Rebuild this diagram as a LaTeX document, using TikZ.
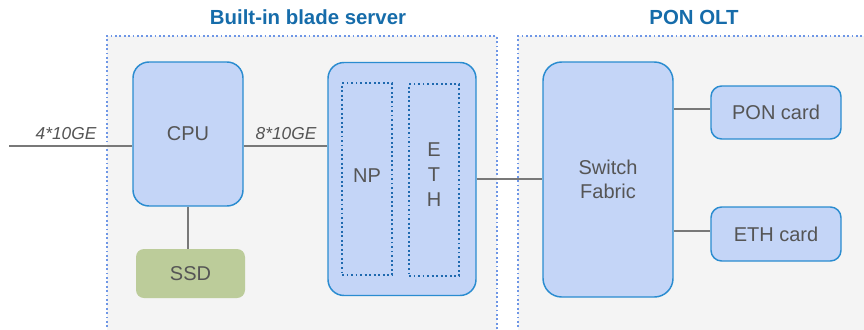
\documentclass[tikz,border=0pt]{standalone}
\usepackage{fontspec}
\setmainfont{Liberation Sans}
\definecolor{boxfill}{RGB}{196,213,247}
\definecolor{boxline}{RGB}{42,140,208}
\definecolor{zoneline}{RGB}{110,150,230}
\definecolor{zonefill}{RGB}{244,244,244}
\definecolor{titleblue}{RGB}{22,108,170}
\definecolor{txtgray}{RGB}{85,85,85}
\definecolor{wire}{RGB}{120,120,120}
\definecolor{ssdfill}{RGB}{188,204,154}
\definecolor{innerline}{RGB}{30,105,175}
\begin{document}
\begin{tikzpicture}[x=0.75pt,y=-0.75pt,
  zone/.style={draw=zoneline,fill=zonefill,line width=1.3pt,dotted},
  zonetitle/.style={text=titleblue,font=\fontsize{15.3}{18}\selectfont\bfseries},
  block/.style={draw=boxline,fill=boxfill,line width=1.1pt,text=txtgray,
    font=\fontsize{15}{17.5}\selectfont,align=center,inner sep=0pt},
  part/.style={draw=innerline,line width=1.4pt,dotted,inner sep=0pt},
  wireline/.style={draw=wire,line width=1.5pt},
  speed/.style={text=txtgray,font=\fontsize{13}{15}\selectfont\itshape,inner sep=0pt}]
\useasboundingbox (0,0) rectangle (864,329);
% enclosing zones
\fill[zonefill] (107,36) rectangle (497,335);
\draw[zone] (107,336) -- (107,36) -- (497,36) -- (497,336);
\fill[zonefill] (518,36) rectangle (870,335);
\draw[zone] (518,336) -- (518,36) -- (870,36);
\node[zonetitle] (t1) at (308,17) {Built-in blade server};
\node[zonetitle] (t2) at (694,17) {PON OLT};
% blade server
\node[block,rounded corners=12pt,minimum width=82.5pt,minimum height=108pt] (cpu) at (188,134) {CPU};
\node[fill=ssdfill,rounded corners=6pt,text=txtgray,font=\fontsize{15}{17.5}\selectfont,
  minimum width=81.75pt,minimum height=36.75pt,inner sep=0pt] (ssd) at (190.5,273.5) {SSD};
\node[block,rounded corners=12pt,minimum width=111pt,minimum height=174.75pt] (npeth) at (402,179) {};
\node[part,minimum width=37.5pt,minimum height=144pt] (np) at (367,179) {};
\node[part,minimum width=37.5pt,minimum height=144pt] (eth) at (434,180) {};
\node[text=txtgray,font=\fontsize{15}{17.5}\selectfont] (nplabel) at (367,176) {NP};
\node[text=txtgray,font=\fontsize{15}{18.75}\selectfont,align=center] (ethlabel) at (434,175) {E\\T\\H};
% PON OLT
\node[block,rounded corners=14pt,minimum width=97.5pt,minimum height=176.25pt] (sw) at (608,179.5) {Switch\\Fabric};
\node[block,rounded corners=8pt,minimum width=97.5pt,minimum height=39.75pt] (pon) at (776,112.5) {PON card};
\node[block,rounded corners=8pt,minimum width=97.5pt,minimum height=40.5pt] (ethc) at (776,234) {ETH card};
% links
\coordinate (uplink) at (9,146);
\coordinate (cpuy) at (0,146);
\draw[wireline] (uplink) -- (uplink -| cpu.west);
\node[speed] (s1) at (66,134) {4*10GE};
\draw[wireline] (cpu.east |- cpuy) -- (npeth.west |- cpuy);
\node[speed] (s2) at (286,134) {8*10GE};
\draw[wireline] (cpu.south) -- (ssd.north -| cpu.south);
\draw[wireline] (npeth.east) -- (npeth.east -| sw.west);
\coordinate (pony) at (0,109);
\coordinate (ethy) at (0,231);
\draw[wireline] (sw.east |- pony) -- (pon.west |- pony);
\draw[wireline] (sw.east |- ethy) -- (ethc.west |- ethy);
\end{tikzpicture}
\end{document}
